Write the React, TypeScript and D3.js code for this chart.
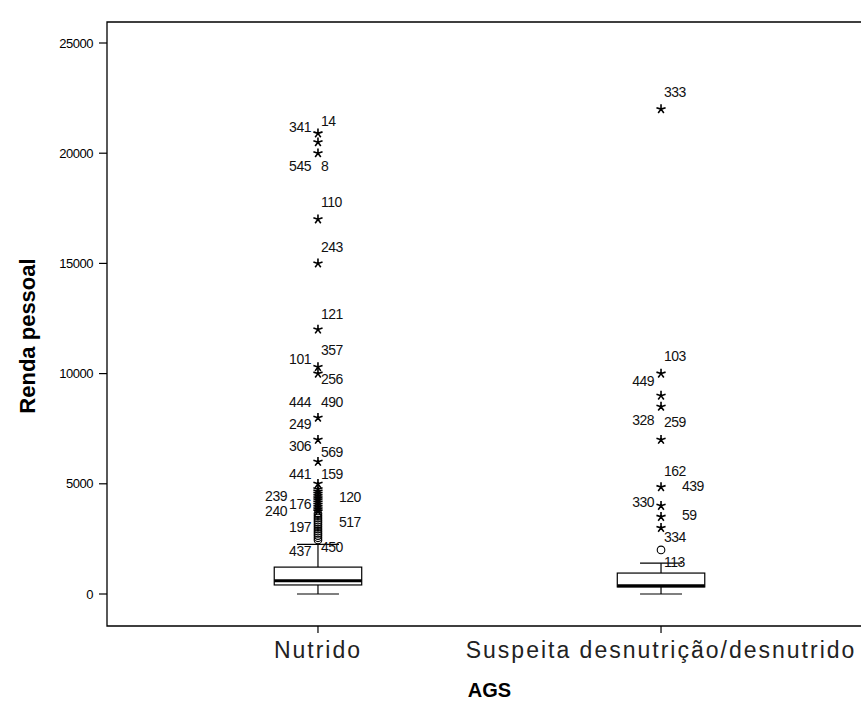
import React from "react";
import * as d3 from "d3";

// ---------- data ----------
const categories = ["Nutrido", "Suspeita desnutrição/desnutrido"];
// box statistics: [min whisker, Q1, median, Q3, max whisker]
const boxNutrido = [0, 410, 600, 1220, 2250];
const boxSuspeita = [0, 320, 370, 950, 1400];
const boxStats = [boxNutrido, boxSuspeita];

// outliers (circles) and extremes (stars)
const circlesNutrido = [2450, 2550, 2650, 2750, 2850, 2950, 3050, 3150, 3250, 3350, 3450, 3550, 3650];
const starsNutrido = [
  3750, 3850, 3950, 4050, 4150, 4250, 4350, 4450, 4550, 4650, 4750, 5000,
  6000, 7000, 8000, 10000, 10300, 12000, 15000, 17000, 20000, 20500, 20900,
];
const circlesSuspeita = [2000];
const starsSuspeita = [3000, 3500, 4000, 4850, 7000, 8500, 9000, 10000, 22000];
const circleSets = [circlesNutrido, circlesSuspeita];
const starSets = [starsNutrido, starsSuspeita];

// case labels: text, value at label centre, column slot (-2 outer left .. 2 outer right)
const labelsNutrido: [string, number, number][] = [
  ["341", 21170, -1], ["14", 21460, 1], ["545", 19420, -1], ["8", 19420, 1],
  ["110", 17760, 1], ["243", 15720, 1], ["121", 12700, 1], ["357", 11070, 1],
  ["101", 10660, -1], ["256", 9730, 1], ["444", 8710, -1], ["490", 8710, 1],
  ["249", 7710, -1], ["306", 6715, -1], ["569", 6420, 1], ["441", 5445, -1],
  ["159", 5445, 1], ["239", 4450, -2], ["176", 4080, -1], ["120", 4380, 2],
  ["240", 3770, -2], ["197", 3040, -1], ["517", 3245, 2], ["437", 1950, -1],
  ["450", 2110, 1],
];
const labelsSuspeita: [string, number, number][] = [
  ["333", 22750, 1], ["103", 10775, 1], ["449", 9640, -1], ["328", 7890, -1],
  ["259", 7800, 1], ["162", 5580, 1], ["439", 4880, 2], ["330", 4150, -1],
  ["59", 3580, 2], ["334", 2560, 1], ["113", 1430, 1],
];
const labelSets = [labelsNutrido, labelsSuspeita];

const yTicks = [0, 5000, 10000, 15000, 20000, 25000];
const yTitle = "Renda pessoal";
const xTitle = "AGS";

// ---------- layout ----------
const W = 861;
const H = 702;
const plotLeft = 107;
const plotRight = 872;
const plotTop = 22;
const plotBottom = 626;
const font = "'Liberation Sans', Arial, sans-serif";

const starPath = (r: number) => {
  let p = "";
  for (let i = 0; i < 5; i++) {
    const a = (-90 + i * 72) * (Math.PI / 180);
    p += `M0,0L${(r * Math.cos(a)).toFixed(2)},${(r * Math.sin(a)).toFixed(2)}`;
  }
  return p;
};

export default function App() {
  const x = d3.scalePoint<string>().domain(categories).range([plotLeft, plotRight]).padding(0.615);
  const y = d3.scaleLinear().domain([0, 25000]).range([594, 43]);
  const step = x.step();
  const boxW = step * 0.255;
  const capW = boxW * 0.24;
  const colOffset: Record<number, [number, string]> = {
    [-2]: [-31, "end"],
    [-1]: [-7, "end"],
    [1]: [3, "start"],
    [2]: [21, "start"],
  };

  return (
    <div style={{ position: "absolute", left: 0, top: 0 }}>
      <svg width={W} height={H} style={{ display: "block", background: "#fff" }} fontFamily={font}>
        <rect x={0} y={0} width={W} height={H} fill="#fff" />
        {/* frame */}
        <path
          d={`M${plotRight},${plotTop}H${plotLeft}V${plotBottom}H${plotRight}`}
          fill="none"
          stroke="#000"
          strokeWidth={1.3}
        />
        {/* y ticks */}
        {yTicks.map((t) => (
          <g key={t}>
            <line x1={plotLeft - 8} x2={plotLeft} y1={y(t)} y2={y(t)} stroke="#000" strokeWidth={1.2} />
            <text x={plotLeft - 14} y={y(t)} dy="0.35em" textAnchor="end" fontSize={13} letterSpacing={-0.5}>
              {t}
            </text>
          </g>
        ))}
        {/* x ticks and labels */}
        {categories.map((c) => (
          <g key={c}>
            <line x1={x(c)} x2={x(c)} y1={plotBottom} y2={plotBottom + 7} stroke="#000" strokeWidth={1.2} />
            <text x={x(c)} y={plotBottom + 32} textAnchor="middle" fontSize={23} letterSpacing={2} fill="#222">
              {c}
            </text>
          </g>
        ))}
        {/* titles */}
        <text x={(plotLeft + plotRight) / 2} y={697} textAnchor="middle" fontSize={20} fontWeight="bold">
          {xTitle}
        </text>
        <text
          transform={`translate(35,${(plotTop + plotBottom) / 2 + 12}) rotate(-90)`}
          textAnchor="middle"
          fontSize={22}
          fontWeight="bold"
        >
          {yTitle}
        </text>
        {/* boxes */}
        {categories.map((c, i) => {
          const cx = x(c) as number;
          const [mn, q1, md, q3, mx] = boxStats[i];
          return (
            <g key={c} stroke="#000" fill="none">
              <line x1={cx} x2={cx} y1={y(mn)} y2={y(q1)} strokeWidth={1.2} />
              <line x1={cx} x2={cx} y1={y(q3)} y2={y(mx)} strokeWidth={1.2} />
              <line x1={cx - capW} x2={cx + capW} y1={y(mn)} y2={y(mn)} strokeWidth={1.2} />
              <line x1={cx - capW} x2={cx + capW} y1={y(mx)} y2={y(mx)} strokeWidth={1.2} />
              <rect x={cx - boxW / 2} y={y(q3)} width={boxW} height={y(q1) - y(q3)} fill="#fff" strokeWidth={1.2} />
              <line x1={cx - boxW / 2} x2={cx + boxW / 2} y1={y(md)} y2={y(md)} strokeWidth={3} />
            </g>
          );
        })}
        {/* outliers */}
        {categories.map((c, i) => {
          const cx = x(c) as number;
          return (
            <g key={c}>
              {circleSets[i].map((v, j) => (
                <circle key={"c" + j} cx={cx} cy={y(v)} r={3.8} fill="none" stroke="#000" strokeWidth={1.1} />
              ))}
              {starSets[i].map((v, j) => (
                <path
                  key={"s" + j}
                  d={starPath(4.8)}
                  transform={`translate(${cx},${y(v)})`}
                  stroke="#000"
                  strokeWidth={1.6}
                  fill="none"
                />
              ))}
              {labelSets[i].map(([t, v, col], j) => (
                <text
                  key={"l" + j}
                  x={cx + colOffset[col][0]}
                  y={y(v)}
                  dy="0.35em"
                  textAnchor={colOffset[col][1] as any}
                  fontSize={14}
                  letterSpacing={-0.5}
                  fill="#111"
                >
                  {t}
                </text>
              ))}
            </g>
          );
        })}
      </svg>
    </div>
  );
}
